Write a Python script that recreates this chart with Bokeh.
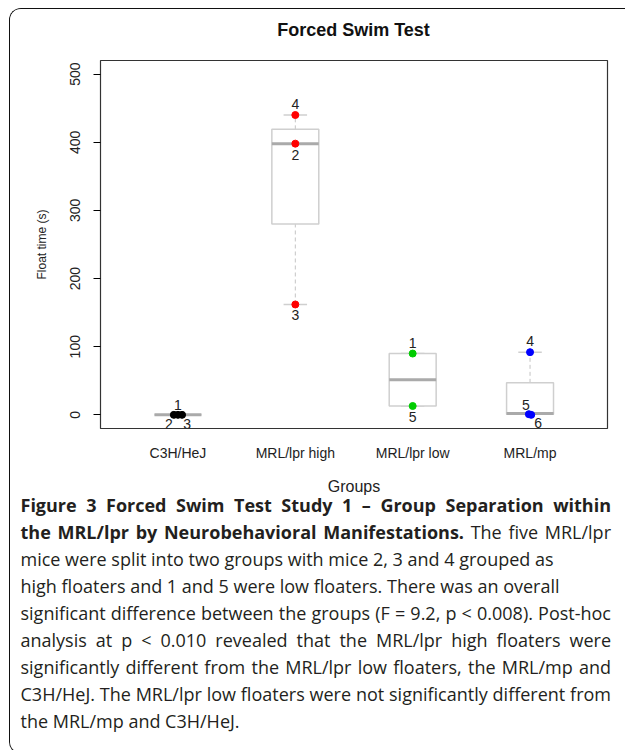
from bokeh.plotting import figure
from bokeh.models import Range1d, FixedTicker, ColumnDataSource, LabelSet, Div
from bokeh.layouts import column
from bokeh.core.properties import value
from bokeh.embed import file_html
from bokeh.resources import INLINE

# ---------------- data ----------------
groups = ["C3H/HeJ", "MRL/lpr high", "MRL/lpr low", "MRL/mp"]
whisker_low = [0, 162, 13, 1]
q1 = [0, 280, 13, 1]
median = [0, 398, 51.5, 2]
q3 = [0, 419, 90, 47]
whisker_high = [0, 440, 90, 92]

pt_group = ["C3H/HeJ", "C3H/HeJ", "C3H/HeJ",
            "MRL/lpr high", "MRL/lpr high", "MRL/lpr high",
            "MRL/lpr low", "MRL/lpr low",
            "MRL/mp", "MRL/mp", "MRL/mp"]
pt_mouse = ["1", "2", "3", "2", "3", "4", "1", "5", "4", "5", "6"]
pt_value = [0, 0, 0, 398, 162, 440, 90, 13, 92, 1, 0]

y_ticks = [0, 100, 200, 300, 400, 500]

title = "Forced Swim Test"
x_title = "Groups"
y_title = "Float time (s)"

caption_bold_1 = "Figure 3 Forced Swim Test Study 1 \u2013 Group Separation within"
caption_bold_2 = "the MRL/lpr by Neurobehavioral Manifestations."
caption_reg_2 = "The five MRL/lpr"
caption_lines = [
    "mice were split into two groups with mice 2, 3 and 4 grouped as",
    "high floaters and 1 and 5 were low floaters. There was an overall",
    "significant difference between the groups (F = 9.2, p &lt; 0.008). Post-hoc",
    "analysis at p &lt; 0.010 revealed that the MRL/lpr high floaters were",
    "significantly different from the MRL/lpr low floaters, the MRL/mp and",
    "C3H/HeJ. The MRL/lpr low floaters were not significantly different from",
    "the MRL/mp and C3H/HeJ.",
]
justified = [False, False, True, True, True, True, False]

# ---------------- styles ----------------
OX, OY = 10.5, 9.5          # content origin inside the rounded frame (window px)
CW = 614                    # content width
TH, CH1, CH2 = 50, 439, 245  # title / chart / caption heights
group_colors = {"C3H/HeJ": "black", "MRL/lpr high": "#ff0000",
                "MRL/lpr low": "#00cc00", "MRL/mp": "#0000ff"}
jitter = {("C3H/HeJ", "2"): -0.035, ("C3H/HeJ", "3"): 0.035,
          ("MRL/mp", "5"): -0.01, ("MRL/mp", "6"): 0.01}
label_off = {("C3H/HeJ", "1"): (0, 10), ("C3H/HeJ", "2"): (-5, -9),
             ("C3H/HeJ", "3"): (5, -9),
             ("MRL/lpr high", "4"): (0, 11), ("MRL/lpr high", "2"): (0, -11),
             ("MRL/lpr high", "3"): (0, -11),
             ("MRL/lpr low", "1"): (0, 11), ("MRL/lpr low", "5"): (0, -11),
             ("MRL/mp", "4"): (0, 11), ("MRL/mp", "5"): (-3, 9),
             ("MRL/mp", "6"): (7, -8)}
BOX_W = 0.4
CAP_W = 0.2
R_FONT = "Liberation Sans"
CAP_FONT = "Open Sans"

xpos = {g: i + 1 for i, g in enumerate(groups)}

# ---------------- title strip ----------------
t = figure(width=CW, height=TH, output_backend="svg", toolbar_location=None,
           x_range=Range1d(0, CW), y_range=Range1d(TH, 0),
           x_axis_type=None, y_axis_type=None, min_border=0,
           background_fill_color="white", border_fill_color="white")
t.frame_align = False
t.grid.visible = False
t.outline_line_color = None
t.text(x=[353.5 - OX], y=[30 - OY], text=[title], text_font=value(R_FONT),
       text_font_size=value("18px"), text_font_style="bold", text_color="#111111",
       text_align="center", text_baseline="middle")

# ---------------- chart ----------------
p = figure(width=CW, height=CH1, output_backend="svg", toolbar_location=None,
           x_range=Range1d(0.34, 4.66), y_range=Range1d(-20, 520),
           min_border_left=90, min_border_right=17, min_border_top=1,
           min_border_bottom=70, background_fill_color="white",
           border_fill_color="white")
p.frame_align = False
p.grid.visible = False
p.outline_line_color = "#333333"
p.outline_line_width = 1.2

ya = p.yaxis[0]
ya.ticker = FixedTicker(ticks=y_ticks)
ya.bounds = (y_ticks[0], y_ticks[-1])
ya.major_tick_out = 7
ya.major_tick_in = 0
ya.minor_tick_line_color = None
ya.major_label_orientation = "vertical"
ya.major_label_text_font = R_FONT
ya.major_label_text_font_size = "14px"
ya.major_label_text_color = "#222222"
ya.major_label_standoff = 13
ya.axis_label = y_title
ya.axis_label_text_font = R_FONT
ya.axis_label_text_font_size = "12px"
ya.axis_label_text_font_style = "normal"
ya.axis_label_text_color = "#222222"
ya.axis_label_standoff = 19
ya.axis_line_color = "#333333"

xa = p.xaxis[0]
xa.ticker = FixedTicker(ticks=[xpos[g] for g in groups])
xa.major_label_overrides = {xpos[g]: g for g in groups}
xa.axis_line_color = None
xa.major_tick_line_color = None
xa.minor_tick_line_color = None
xa.major_label_standoff = 10
xa.major_label_text_font = R_FONT
xa.major_label_text_font_size = "14px"
xa.major_label_text_color = "#222222"
xa.axis_label = x_title
xa.axis_label_text_font = R_FONT
xa.axis_label_text_font_size = "16px"
xa.axis_label_text_font_style = "normal"
xa.axis_label_text_color = "#222222"
xa.axis_label_standoff = 14

gx = [xpos[g] for g in groups]
bsrc = ColumnDataSource(dict(x=gx, q1=q1, q3=q3, med=median,
                             lo=whisker_low, hi=whisker_high,
                             l=[x - BOX_W / 2 for x in gx], r=[x + BOX_W / 2 for x in gx],
                             cl=[x - CAP_W / 2 for x in gx], cr=[x + CAP_W / 2 for x in gx]))
grey_box = "#cfcfcf"
grey_med = "#aaaaaa"
p.segment(x0="x", y0="q3", x1="x", y1="hi", source=bsrc, line_color="#c4c4c4",
          line_dash="4 3", line_width=1)
p.segment(x0="x", y0="lo", x1="x", y1="q1", source=bsrc, line_color="#c4c4c4",
          line_dash="4 3", line_width=1)
p.segment(x0="cl", y0="hi", x1="cr", y1="hi", source=bsrc, line_color=grey_box, line_width=1.5)
p.segment(x0="cl", y0="lo", x1="cr", y1="lo", source=bsrc, line_color=grey_box, line_width=1.5)
p.quad(left="l", right="r", bottom="q1", top="q3", source=bsrc,
       fill_color="white", line_color=grey_box, line_width=1.5)
p.segment(x0="l", y0="med", x1="r", y1="med", source=bsrc, line_color=grey_med, line_width=3)

px = [xpos[g] + jitter.get((g, m), 0.0) for g, m in zip(pt_group, pt_mouse)]
psrc = ColumnDataSource(dict(
    x=px, y=pt_value, mouse=pt_mouse,
    color=[group_colors[g] for g in pt_group],
    dx=[label_off[(g, m)][0] for g, m in zip(pt_group, pt_mouse)],
    dy=[label_off[(g, m)][1] for g, m in zip(pt_group, pt_mouse)]))
p.scatter(x="x", y="y", source=psrc, size=7, fill_color="color", line_color="color")
p.add_layout(LabelSet(x="x", y="y", text="mouse", source=psrc, x_offset="dx", y_offset="dy",
                      text_align="center", text_baseline="middle",
                      text_font=value(R_FONT), text_font_size=value("14px"),
                      text_color="#222222"))

# ---------------- caption ----------------
J = "text-align:justify;text-align-last:justify;white-space:nowrap;"
L = "text-align:left;white-space:nowrap;"
rows = [f'<div style="{J}"><b>{caption_bold_1}</b></div>',
        f'<div style="{J}"><b>{caption_bold_2}</b> {caption_reg_2}</div>']
for line, jus in zip(caption_lines, justified):
    rows.append(f'<div style="{J if jus else L}">{line}</div>')
html = (f'<div style="font-family:\'{CAP_FONT}\';font-size:18px;line-height:27px;'
        f'color:#231f20;width:596px;padding-left:{16 - OX}px;'
        f'position:relative;top:-11px;">'
        + "".join(rows) + "</div>")
cap = Div(text=html, width=CW, height=CH2)

layout = column(t, p, cap, spacing=0,
                styles={"margin-left": "9px", "margin-top": "8px",
                        "border-top": "1.5px solid #111111",
                        "border-left": "1.5px solid #111111",
                        "border-bottom": "1.5px solid #111111",
                        "border-radius": "12px 0 0 12px",
                        "overflow": "hidden", "background-color": "white"})

open("out.html", "w").write(file_html(layout, INLINE))
